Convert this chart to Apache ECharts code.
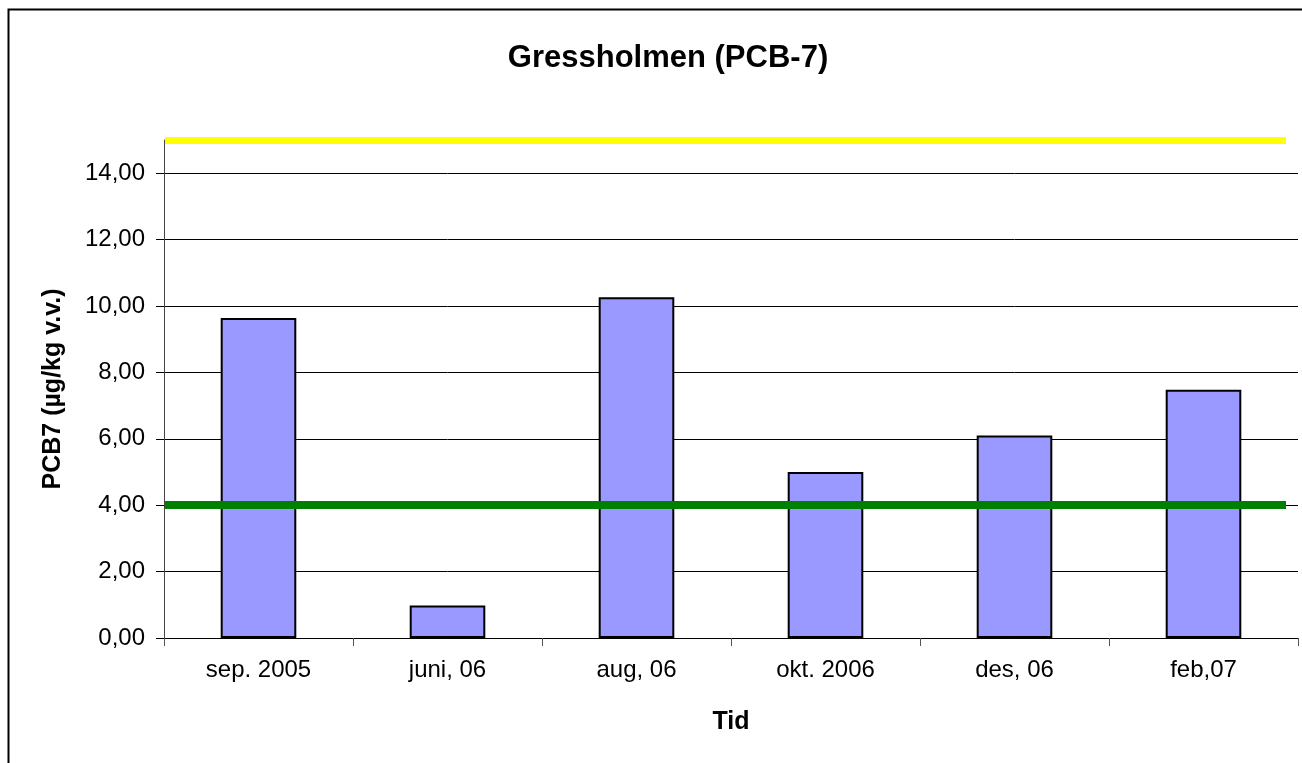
<!DOCTYPE html>
<html>
<head>
<meta charset="utf-8">
<script src="https://cdn.jsdelivr.net/npm/echarts@6/dist/echarts.min.js"></script>
<style>
  html, body { margin: 0; padding: 0; background: #fff; }
  #chart { width: 1302px; height: 763px; }
</style>
</head>
<body>
<div id="chart"></div>
<script>
// data
var categories = ['sep. 2005', 'juni, 06', 'aug, 06', 'okt. 2006', 'des, 06', 'feb,07'];
var pcb7 = [9.64, 0.98, 10.26, 5.00, 6.10, 7.48];
var upperLimit = 15.1;   // yellow line
var lowerLimit = 4;      // green line

var chart = echarts.init(document.getElementById('chart'));
var font = 'Liberation Sans, Arial, sans-serif';

// limit lines run from the y axis to x=1286, like the reference
function limitLine(value, color, width) {
    return [
        { yAxis: value, x: 165, lineStyle: { color: color, width: width, type: 'solid' } },
        { yAxis: value, x: 1286 }
    ];
}

option = {
    animation: false,
    backgroundColor: '#fff',
    textStyle: { fontFamily: font },
    title: {
        text: 'Gressholmen (PCB-7)',
        left: 663,
        textAlign: 'center',
        top: 38,
        textStyle: { fontFamily: font, fontSize: 31, fontWeight: 'bold', color: '#000' }
    },
    graphic: [{
        type: 'rect',
        shape: { x: 8.5, y: 9.5, width: 1310, height: 770 },
        style: { fill: null, stroke: '#000', lineWidth: 2 },
        silent: true
    }],
    grid: {
        left: 164,
        right: 4,
        top: 140,
        bottom: 125,
        outerBoundsMode: 'none'
    },
    xAxis: [{
        type: 'category',
        data: categories,
        name: 'Tid',
        nameLocation: 'middle',
        nameGap: 72,
        nameTextStyle: { fontFamily: font, fontSize: 25, fontWeight: 'bold', color: '#000' },
        axisLine: { lineStyle: { color: '#000', width: 1 } },
        axisTick: { show: true, length: 8, lineStyle: { color: '#555' } },
        axisLabel: { interval: 0, margin: 20, fontFamily: font, fontSize: 24, color: '#000' },
        splitLine: { show: false }
    }],
    yAxis: [{
        type: 'value',
        min: 0,
        max: 15,
        interval: 2,
        name: 'PCB7 (µg/kg v.v.)',
        nameLocation: 'middle',
        nameGap: 98,
        nameTextStyle: { fontFamily: font, fontSize: 25, fontWeight: 'bold', color: '#000' },
        axisLine: { show: true, lineStyle: { color: '#444', width: 1 } },
        axisTick: { show: true, length: 8, lineStyle: { color: '#000' } },
        axisLabel: {
            margin: 19,
            showMaxLabel: false,
            fontFamily: font,
            fontSize: 24,
            color: '#000',
            formatter: function (v) { return v.toFixed(2).replace('.', ','); }
        },
        splitLine: { show: true, showMaxLine: false, lineStyle: { color: '#000', width: 1 } }
    }],
    series: [{
        name: 'PCB7',
        type: 'bar',
        barCategoryGap: '60%',
        itemStyle: { color: '#9999FF', borderColor: '#000', borderWidth: 2 },
        data: pcb7,
        markLine: {
            silent: true,
            symbol: 'none',
            label: { show: false },
            data: [
                limitLine(upperLimit, '#FFFF00', 7),
                limitLine(lowerLimit, '#008000', 8)
            ]
        }
    }]
};

chart.setOption(option);
</script>
</body>
</html>
